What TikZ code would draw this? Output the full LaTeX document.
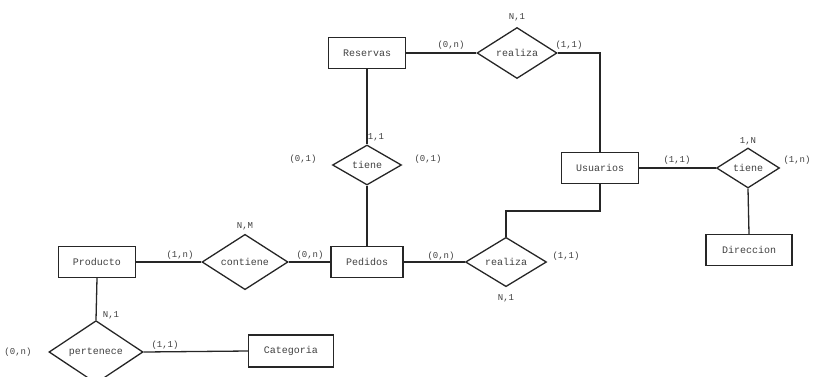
\documentclass[tikz,border=0pt]{standalone}
\usepackage{fontspec}
\setmonofont{Liberation Mono}
\usetikzlibrary{shapes.geometric}
\begin{document}
\begin{tikzpicture}[x=1pt,y=-1pt,
  entidad/.style={draw=black!85, line width=1.3pt, rectangle, minimum width=77, minimum height=31, inner sep=0pt, font=\ttfamily\fontsize{10}{12}\selectfont, text=black!75},
  relacion/.style={draw=black!85, line width=1.3pt, diamond, inner sep=0pt, font=\ttfamily\fontsize{10}{12}\selectfont, text=black!75},
  card/.style={font=\ttfamily\fontsize{9}{10}\selectfont, text=black!75},
  enlace/.style={draw=black!85, line width=1.3pt}]
\useasboundingbox (0,0) rectangle (819,376);
% entidades
\node[entidad] (reservas) at (367,53) {Reservas};
\node[entidad] (usuarios) at (600,168) {Usuarios};
\node[entidad, minimum width=86] (direccion) at (749,250) {Direccion};
\node[entidad] (producto) at (97,262) {Producto};
\node[entidad, minimum width=72] (pedidos) at (367,262) {Pedidos};
\node[entidad, minimum width=85, minimum height=32] (categoria) at (291,351) {Categoria};
% relaciones
\node[relacion, minimum width=80, minimum height=51] (realizaR) at (517,53) {realiza};
\node[relacion, minimum width=69, minimum height=40] (tieneP) at (367,165) {tiene};
\node[relacion, minimum width=63, minimum height=40] (tieneD) at (748,168) {tiene};
\node[relacion, minimum width=86, minimum height=53] (contiene) at (245,262) {contiene};
\node[relacion, minimum width=81, minimum height=49] (realizaP) at (506,262) {realiza};
\node[relacion, minimum width=94, minimum height=58] (pertenece) at (96,352) {pertenece};
\coordinate (codo) at (506,211);
% conexiones
\draw[enlace] (reservas.east) -- (realizaR.west);
\draw[enlace] (realizaR.east) -| (usuarios.north);
\draw[enlace] (reservas.south) -- (tieneP.north);
\draw[enlace] (tieneP.south) -- (pedidos.north);
\draw[enlace] (pedidos.east) -- (realizaP.west);
\draw[enlace] (realizaP.north) -- (codo) -| (usuarios.south);
\draw[enlace] (usuarios.east) -- (tieneD.west);
\draw[enlace] (tieneD.south) -- (direccion.north);
\draw[enlace] (producto.east) -- (contiene.west);
\draw[enlace] (contiene.east) -- (pedidos.west);
\draw[enlace] (producto.south) -- (pertenece.north);
\draw[enlace] (pertenece.east) -- (categoria.west);
% cardinalidades
\node[card] (c1) at (517,17) {N,1};
\node[card] (c2) at (451,45) {(0,n)};
\node[card] (c3) at (569,45) {(1,1)};
\node[card] (c4) at (376,137) {1,1};
\node[card] (c5) at (303,159) {(0,1)};
\node[card] (c6) at (428,159) {(0,1)};
\node[card] (c7) at (677,160) {(1,1)};
\node[card] (c8) at (748,141) {1,N};
\node[card] (c9) at (797,160) {(1,n)};
\node[card] (c10) at (245,226) {N,M};
\node[card] (c11) at (180,255) {(1,n)};
\node[card] (c12) at (310,255) {(0,n)};
\node[card] (c13) at (441,256) {(0,n)};
\node[card] (c14) at (566,256) {(1,1)};
\node[card] (c15) at (506,298) {N,1};
\node[card] (c16) at (111,315) {N,1};
\node[card] (c17) at (18,352) {(0,n)};
\node[card] (c18) at (165,345) {(1,1)};
\end{tikzpicture}
\end{document}
